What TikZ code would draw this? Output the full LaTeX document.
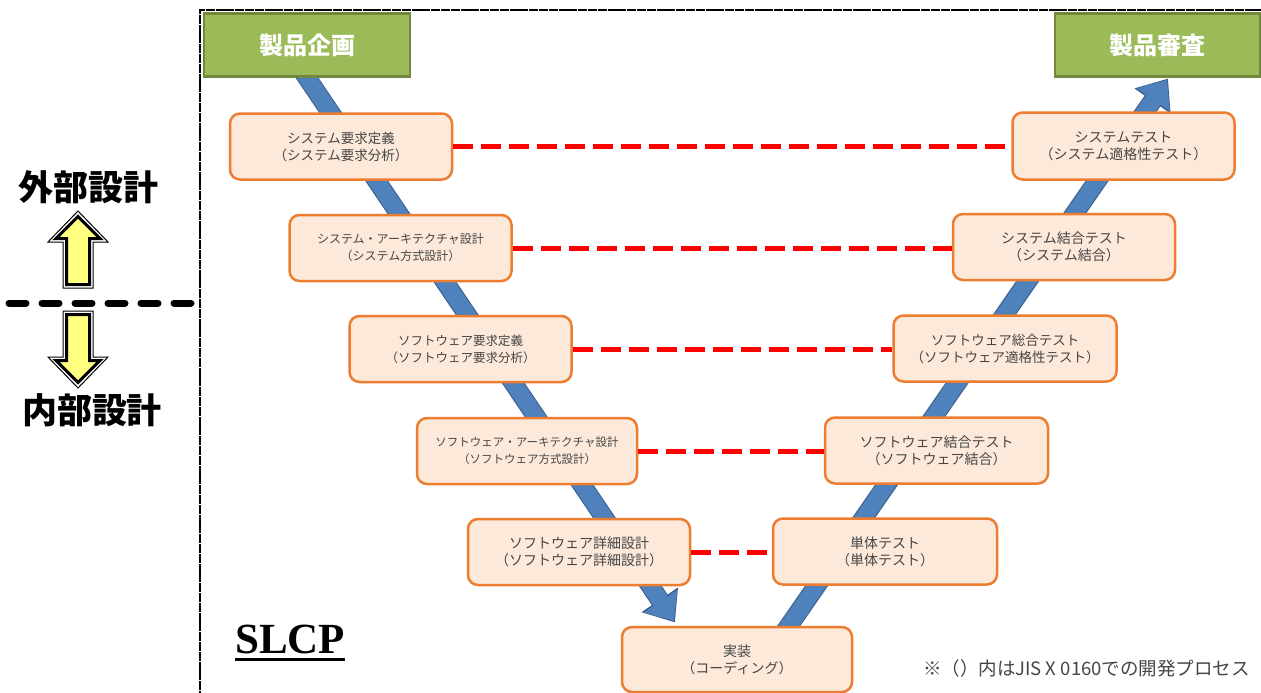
\documentclass[tikz,border=0pt]{standalone}
\usepackage{fontspec}
\setmainfont{Noto Sans CJK JP}
\newfontfamily\slcpserif{Liberation Serif}
\usetikzlibrary{arrows.meta}
\definecolor{boxfill}{HTML}{FDE9D9}
\definecolor{boxline}{HTML}{ED7D31}
\definecolor{gfill}{HTML}{9BBB59}
\definecolor{gline}{HTML}{71893F}
\definecolor{vblue}{HTML}{4F81BD}
\definecolor{vblueline}{HTML}{385D8A}
\definecolor{boxtext}{HTML}{454545}
\definecolor{dashred}{HTML}{FF0000}
\definecolor{arrowyellow}{HTML}{FFFF80}
\begin{document}
\begin{tikzpicture}[x=1pt,y=-1pt,
  procbox/.style={draw=boxline, fill=boxfill, line width=2.5pt, rounded corners=10pt,
    minimum width=222pt, minimum height=66pt, align=center, text=boxtext, inner sep=0pt},
  gbox/.style={draw=gline, fill=gfill, line width=2.5pt, minimum width=205pt, minimum height=63pt,
    text=white, font=\fontsize{24}{28}\selectfont\bfseries},
  vflowout/.style={draw=vblueline, line width=19pt, shorten >=-1.5pt,
    -{Triangle[width=44pt,length=27pt,line width=0pt]}},
  vflow/.style={draw=vblue, line width=17pt, -{Triangle[width=40pt,length=24pt,line width=0pt]}},
  pairline/.style={draw=dashred, line width=5pt, dash pattern=on 20pt off 8pt},
  sepline/.style={draw=black, line width=7pt, line cap=round, dash pattern=on 17pt off 16pt},
  framebox/.style={draw=black, line width=2.5pt, dash pattern=on 9pt off 0.8pt},
  sidelabel/.style={font=\fontsize{35}{38}\selectfont\bfseries, text=black},
  yarrowout/.style={fill=white, draw=black, line width=1pt},
  yarrowin/.style={fill=arrowyellow, draw=black, line width=3pt, line join=miter},
  fs/.style={font=\fontsize{#1}{17}\selectfont}
]
\useasboundingbox (0,0) rectangle (1261,693);
\fill[white] (0,0) rectangle (1261,693);

% frame
\draw[framebox] (200,700) -- (200,10) -- (1275,10);

% V-model flow arrows
\coordinate (ls) at (295,60);
\coordinate (lt) at (674,621);
\coordinate (rs) at (779,640);
\coordinate (rt) at (1167,80);
\draw[vflowout] (ls) -- (lt);
\draw[vflow] (ls) -- (lt);
\draw[vflowout] (rs) -- (rt);
\draw[vflow] (rs) -- (rt);

% green boxes
\node[gbox, minimum width=206pt] (plan) at (307,45) {製品企画};
\node[gbox] (review) at (1157.5,45) {製品審査};

% left boxes
\node[procbox, fs=13.5] (l1) at (341,146.5) {システム要求定義\\（システム要求分析）};
\node[procbox, fs=12] (l2) at (400.5,248) {システム・アーキテクチャ設計\\（システム方式設計）};
\node[procbox, fs=12.5] (l3) at (460.5,349) {ソフトウェア要求定義\\（ソフトウェア要求分析）};
\node[procbox, fs=11.5, minimum width=220pt] (l4) at (527,451) {ソフトウェア・アーキテクチャ設計\\（ソフトウェア方式設計）};
\node[procbox, fs=14] (l5) at (579,552) {ソフトウェア詳細設計\\（ソフトウェア詳細設計）};
\node[procbox, fs=14, minimum width=230pt, minimum height=65pt] (impl) at (737,659.5) {実装\\（コーディング）};

% right boxes
\node[procbox, fs=14, minimum height=67pt] (r1) at (1123.5,146) {システムテスト\\（システム適格性テスト）};
\node[procbox, fs=14] (r2) at (1064,247) {システム結合テスト\\（システム結合）};
\node[procbox, fs=13.5, minimum width=223pt] (r3) at (1005,348.5) {ソフトウェア総合テスト\\（ソフトウェア適格性テスト）};
\node[procbox, fs=14, minimum width=223pt] (r4) at (936.5,450.5) {ソフトウェア結合テスト\\（ソフトウェア結合）};
\node[procbox, fs=14, minimum width=224pt] (r5) at (885,551.5) {単体テスト\\（単体テスト）};

% pairing lines
\draw[pairline] (l1.east) -- (l1.east -| r1.west);
\draw[pairline] (l2.east) -- (l2.east -| r2.west);
\draw[pairline] (l3.east) -- (l3.east -| r3.west);
\draw[pairline] (l4.east) -- (l4.east -| r4.west);
\draw[pairline] (l5.east) -- (l5.east -| r5.west);

% left side: external / internal design
\node[sidelabel] (ext) at (89,187) {外部設計};
\node[sidelabel] (int) at (92,410) {内部設計};
\coordinate (sepa) at (9,303);
\coordinate (sepb) at (195,303);
\draw[sepline] (sepa) -- (sepb);
\draw[yarrowout] (78,211) -- (108,242) -- (93,242) -- (93,288) -- (63,288) -- (63,242) -- (48,242) -- cycle;
\draw[yarrowin] (78,216.5) -- (100,238.5) -- (89.5,238.5) -- (89.5,284.5) -- (66.5,284.5) -- (66.5,238.5) -- (56,238.5) -- cycle;
\draw[yarrowout] (78,388) -- (108,357) -- (93,357) -- (93,311) -- (63,311) -- (63,357) -- (48,357) -- cycle;
\draw[yarrowin] (78,382.5) -- (100,360.5) -- (89.5,360.5) -- (89.5,314.5) -- (66.5,314.5) -- (66.5,360.5) -- (56,360.5) -- cycle;

% SLCP
\node[font=\slcpserif\bfseries\fontsize{43}{46}\selectfont, inner sep=0pt, anchor=base west] (slcp) at (235,653) {SLCP};
\draw[line width=3pt] ([yshift=-6pt]slcp.base west) -- ([yshift=-6pt]slcp.base east);

% note
\node[fs=18.5, text=boxtext, anchor=east, inner sep=0pt] (note) at (1250,668) {※（）内はJIS X 0160での開発プロセス};
\end{tikzpicture}
\end{document}
